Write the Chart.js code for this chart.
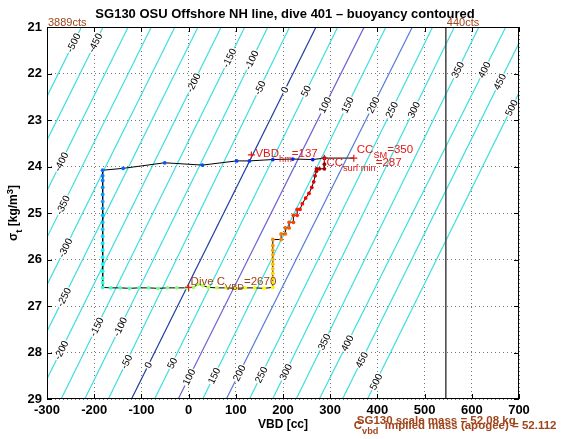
<!DOCTYPE html>
<html lang="en">
<head>
<meta charset="UTF-8">
<title>SG130 dive 401 buoyancy contoured</title>
<script src="https://cdn.jsdelivr.net/npm/chart.js"></script>
<style>
  body { margin: 0; background: #fff; }
  canvas { display: block; }
</style>
</head>
<body>
<canvas id="chart" width="570" height="439"></canvas>
<script>
// buoyancy contours [g]: VBD where each line meets sigma_t = 21 (top) and 29 (bottom)
const levels   = [-500, -450, -400, -350, -300, -250, -200, -150, -100, -50, 0, 50, 100, 150, 200, 250, 300, 350, 400, 450, 500];
const vbdAtTop = [-227, -181, -128, -79, -29, 20, 69, 119, 168, 214, 270, 316, 372, 418, 474, 517, 563, 615, 672, 717, 769];
const vbdAtBot = [-618, -572, -519, -470, -420, -371, -321, -270, -220, -170, -121, -72, -22, 30, 80, 129, 178, 228, 277, 326, 379];

// where the contour labels sit (level, sigma_t)
const labelLevels = [-500, -450, -200, -150, -100, -50, 0, 50, 100, 150, 200, 250, 300, 350, 400, 450, 500,
                     -400, -350, -300, -250, -200, -150, -100, -50, 0, 50, 100, 150, 200, 250, 300, 350, 400, 450, 500];
const labelSigma  = [21.34, 21.34, 22.2, 21.67, 21.71, 22.31, 22.35, 22.38, 22.68, 22.68, 22.68, 22.78, 22.78, 21.92, 21.92, 22.18, 22.74,
                     23.9, 24.83, 25.75, 26.81, 27.95, 27.45, 27.45, 28.2, 28.27, 28.23, 28.53, 28.5, 28.44, 28.48, 28.42, 27.77, 27.8, 28.16, 28.63];

// dive trace: VBD [cc] vs sigma_t, in time order
const traceVbd = [
  287.7, 263, 220.7, 178.4, 129, 101.7, 29.2, -50.5, -138.7, -182.2,
  -182, -182, -182, -182, -182, -182, -182, -182, -182, -182, -182, -182, -182, -182, -182, -182, -182, -182,
  -165, -145, -125, -105, -85, -65, -45, -25, -5, 10, 20, 30, 42, 60, 80, 100, 120, 140, 160, 178.4,
  178.4, 178.4, 178.4, 178.4, 178.4, 178.4, 178.4, 178.4, 178.4, 178.4,
  196, 196, 205, 205, 213, 213, 222, 222, 230, 230, 236, 241, 248, 255, 261, 265, 268, 270.8, 271, 277, 287.7, 287.7, 287.7
];
const traceSigma = [
  23.82, 23.85, 23.84, 23.85, 23.88, 23.88, 23.97, 23.92, 24.04, 24.08,
  24.2, 24.3, 24.45, 24.6, 24.75, 24.9, 25.05, 25.2, 25.35, 25.5, 25.65, 25.8, 25.95, 26.1, 26.25, 26.4, 26.5, 26.6,
  26.61, 26.61, 26.62, 26.61, 26.61, 26.62, 26.61, 26.61, 26.61, 26.6, 26.53, 26.56, 26.6, 26.61, 26.61, 26.62, 26.61, 26.61, 26.62, 26.6,
  26.5, 26.4, 26.3, 26.2, 26.1, 26.0, 25.9, 25.8, 25.7, 25.57,
  25.57, 25.45, 25.45, 25.32, 25.32, 25.2, 25.2, 25.05, 25.05, 24.92, 24.92, 24.8, 24.68, 24.58, 24.45, 24.33, 24.2, 24.1, 24.05, 24.05, 24.05, 23.95, 23.82
];

// surface CC range and the pump limit line
const surfVbd = [287.7, 350];
const surfSigma = [23.82, 23.82];
const limitVbd = 545;
const countVbd = [-300, 545];
const countText = ['3889cts', '440cts'];

// marked values: VBD_hm, CC_SM, CC_surf min, Dive C_VBD
const markVbd   = [133, 350, 287.7, 0];
const markSigma = [23.75, 23.82, 23.82, 26.6];
const markText  = [
  [['VBD'], ['hm', 1], ['=137']],
  [['CC'], ['SM', 1], ['=350']],
  [['CC'], ['surf min', 1], ['=287']],
  [['Dive C'], ['VBD', 1], ['=2670']]
];

const FONT = '"Liberation Sans", Arial, Helvetica, sans-serif';
const RED = '#e01818';
const BROWN = '#a0441a';

function jet(t) {
  const c = v => Math.round(255 * Math.max(0, Math.min(1, v)));
  return 'rgb(' + c(1.5 - Math.abs(4 * t - 3)) + ',' + c(1.5 - Math.abs(4 * t - 2)) + ',' + c(1.5 - Math.abs(4 * t - 1)) + ')';
}

function contourColor(lev) {
  if (lev === 0) return '#1c3e9e';
  if (lev === 100) return '#6a62d2';
  if (lev === 200) return '#4f7ad6';
  return '#3fdede';
}

// text with subscripts, left aligned, vertically middle
function richText(ctx, parts, x, y, size, color, weight) {
  let cx = x;
  ctx.fillStyle = color;
  ctx.textAlign = 'left';
  ctx.textBaseline = 'middle';
  parts.forEach(([t, sub]) => {
    const s = sub ? size * 0.8 : size;
    ctx.font = (weight || '') + ' ' + s + 'px ' + FONT;
    ctx.fillText(t, cx, sub ? y + size * 0.5 : y);
    cx += ctx.measureText(t).width;
  });
  return cx;
}

const overlay = {
  id: 'overlay',
  afterDatasetsDraw(chart) {
    const { ctx, chartArea: a, scales: { x, y } } = chart;

    // contour labels
    ctx.save();
    ctx.beginPath();
    ctx.rect(a.left, a.top, a.right - a.left, a.bottom - a.top);
    ctx.clip();
    ctx.font = '10px ' + FONT;
    labelLevels.forEach((lev, i) => {
      const k = levels.indexOf(lev);
      const s = labelSigma[i];
      const v = vbdAtTop[k] + (vbdAtBot[k] - vbdAtTop[k]) * (s - 21) / 8;
      const px = x.getPixelForValue(v), py = y.getPixelForValue(s);
      const ang = Math.atan2(y.getPixelForValue(21) - y.getPixelForValue(29),
                             x.getPixelForValue(vbdAtTop[k]) - x.getPixelForValue(vbdAtBot[k]));
      const txt = String(lev);
      ctx.save();
      ctx.translate(px, py);
      ctx.rotate(ang);
      const w = ctx.measureText(txt).width;
      ctx.fillStyle = '#fff';
      ctx.fillRect(-w / 2 - 1, -4, w + 2, 8);
      ctx.fillStyle = '#000';
      ctx.textAlign = 'center';
      ctx.textBaseline = 'middle';
      ctx.fillText(txt, 0, 0.5);
      ctx.restore();
    });
    ctx.restore();

    ctx.save();
    // box and inward ticks
    ctx.strokeStyle = '#000';
    ctx.lineWidth = 1;
    ctx.strokeRect(a.left + 0.5, a.top + 0.5, a.right - a.left - 1, a.bottom - a.top - 1);
    ctx.beginPath();
    x.ticks.forEach(t => {
      const px = Math.round(x.getPixelForValue(t.value)) + 0.5;
      ctx.moveTo(px, a.bottom); ctx.lineTo(px, a.bottom - 5);
      ctx.moveTo(px, a.top); ctx.lineTo(px, a.top + 5);
    });
    y.ticks.forEach(t => {
      const py = Math.round(y.getPixelForValue(t.value)) + 0.5;
      ctx.moveTo(a.left, py); ctx.lineTo(a.left + 5, py);
      ctx.moveTo(a.right, py); ctx.lineTo(a.right - 5, py);
    });
    ctx.stroke();

    // marks with '+' and their labels
    const offs = [[4, -1], [3, -8], [2, 5], [2, -6]];
    markVbd.forEach((v, i) => {
      const px = x.getPixelForValue(v), py = y.getPixelForValue(markSigma[i]);
      ctx.strokeStyle = RED;
      ctx.lineWidth = 1.2;
      ctx.beginPath();
      ctx.moveTo(px - 3.5, py); ctx.lineTo(px + 3.5, py);
      ctx.moveTo(px, py - 3.5); ctx.lineTo(px, py + 3.5);
      ctx.stroke();
      richText(ctx, markText[i], px + offs[i][0], py + offs[i][1], 11.5, i === 3 ? BROWN : RED);
    });

    // count labels above the box
    ctx.font = '11px ' + FONT;
    ctx.fillStyle = BROWN;
    ctx.textAlign = 'left';
    ctx.textBaseline = 'alphabetic';
    countVbd.forEach((v, i) => ctx.fillText(countText[i], x.getPixelForValue(v) + 1, a.top - 1));

    // title and axis titles
    ctx.fillStyle = '#000';
    ctx.font = 'bold 13px ' + FONT;
    ctx.textAlign = 'center';
    ctx.textBaseline = 'middle';
    ctx.fillText('SG130 OSU Offshore NH line, dive 401 \u2013 buoyancy contoured', 285, 14);
    ctx.font = 'bold 12px ' + FONT;
    ctx.fillText('VBD [cc]', (a.left + a.right) / 2, a.bottom + 26);

    ctx.save();
    ctx.translate(14, (a.top + a.bottom) / 2);
    ctx.rotate(-Math.PI / 2);
    const yParts = [['\u03c3'], ['t', 1], [' [kg/m'], ['3', 2], [']']];
    let tw = 0;
    yParts.forEach(([t, s]) => { ctx.font = 'bold ' + (s ? 9.5 : 12) + 'px ' + FONT; tw += ctx.measureText(t).width; });
    let cx = -tw / 2;
    ctx.textAlign = 'left';
    yParts.forEach(([t, s]) => {
      ctx.font = 'bold ' + (s ? 9.5 : 12) + 'px ' + FONT;
      ctx.fillText(t, cx, s === 1 ? 5 : (s === 2 ? -4 : 0));
      cx += ctx.measureText(t).width;
    });
    ctx.restore();

    // mass notes under the axis
    const mx = x.getPixelForValue(350);
    richText(ctx, [['SG130 scale mass = 52.08 kg']], mx + 3, a.bottom + 22, 11.5, BROWN, 'bold');
    richText(ctx, [['C'], ['vbd', 1], ['  implied mass (apogee) = 52.112']], mx, a.bottom + 27, 11.5, BROWN, 'bold');
    ctx.restore();
  }
};

const datasets = [];
datasets.push({
  data: traceVbd.map((v, i) => ({ x: v, y: traceSigma[i] })),
  showLine: true,
  borderColor: '#000',
  borderWidth: 1,
  pointRadius: 1.9,
  pointBorderWidth: 0,
  pointBackgroundColor: traceVbd.map((v, i) => jet(0.14 + 0.84 * i / (traceVbd.length - 1))),
  order: 0
});
datasets.push({
  data: surfVbd.map((v, i) => ({ x: v, y: surfSigma[i] })),
  showLine: true, borderColor: '#555', borderWidth: 1.5, pointRadius: 0, order: 1
});
datasets.push({
  data: [{ x: limitVbd, y: 21 }, { x: limitVbd, y: 29 }],
  showLine: true, borderColor: '#444', borderWidth: 1.5, pointRadius: 0, order: 2
});
levels.forEach((lev, k) => {
  datasets.push({
    data: [{ x: vbdAtBot[k], y: 29 }, { x: vbdAtTop[k], y: 21 }],
    showLine: true,
    borderColor: contourColor(lev),
    borderWidth: 1.2,
    pointRadius: 0,
    order: lev === 0 || lev === 100 || lev === 200 ? 3 : 4
  });
});

new Chart(document.getElementById('chart'), {
  type: 'scatter',
  data: { datasets },
  options: {
    responsive: false,
    animation: false,
    devicePixelRatio: 1,
    layout: { padding: { top: 27, right: 51, left: 0, bottom: 0 } },
    plugins: { legend: { display: false }, tooltip: { enabled: false } },
    scales: {
      x: {
        type: 'linear', min: -300, max: 700,
        afterFit: s => { s.height = 40; },
        ticks: { stepSize: 100, color: '#000', padding: 4, font: { family: FONT, weight: 'bold', size: 13 } },
        grid: { color: '#777', drawTicks: false, lineWidth: 1 },
        border: { display: false, dash: [1, 3] }
      },
      y: {
        type: 'linear', min: 21, max: 29, reverse: true,
        afterFit: s => { s.width = 47; },
        ticks: { stepSize: 1, color: '#000', padding: 5, font: { family: FONT, weight: 'bold', size: 13 } },
        grid: { color: '#777', drawTicks: false, lineWidth: 1 },
        border: { display: false, dash: [1, 3] }
      }
    }
  },
  plugins: [overlay]
});
</script>
</body>
</html>
